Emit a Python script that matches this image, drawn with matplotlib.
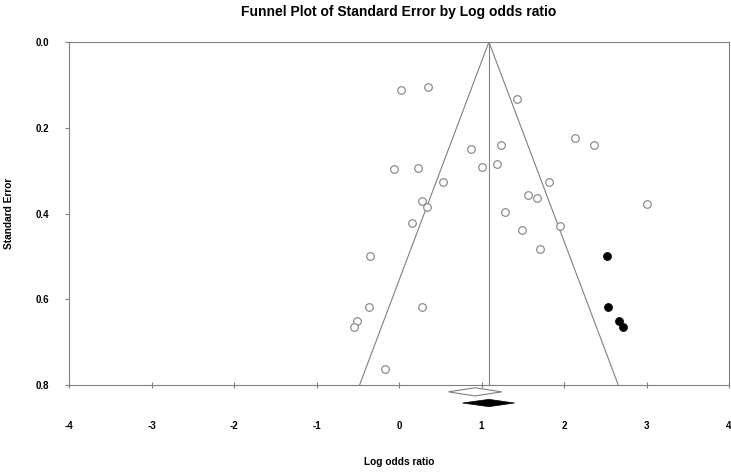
import numpy as np
import matplotlib
matplotlib.use("Agg")
import matplotlib.pyplot as plt

plt.rcParams['font.family'] = ['Liberation Sans', 'DejaVu Sans']

# observed studies (log odds ratio, standard error)
obs_lor = [0.03, 0.355, -0.064, 0.234, 0.283, 0.335, 0.153,
           -0.35, -0.364, -0.505, -0.54, 0.275, -0.174,
           1.426, 0.869, 1.236, 1.002, 1.184, 0.533, 1.818, 1.56, 1.669, 1.288, 1.495,
           1.713,
           2.133, 2.36, 3.01, 1.948]
obs_se = [0.112, 0.104, 0.297, 0.293, 0.372, 0.384, 0.421,
          0.500, 0.619, 0.651, 0.664, 0.619, 0.763,
          0.134, 0.250, 0.240, 0.292, 0.284, 0.326, 0.327, 0.356, 0.365, 0.397, 0.439,
          0.482,
          0.223, 0.240, 0.379, 0.428]

# imputed studies (trim and fill)
imp_lor = [2.52, 2.533, 2.67, 2.71]
imp_se = [0.500, 0.619, 0.651, 0.664]

# summary estimates: point, lower, upper
observed_est = [0.92, 0.60, 1.245]
adjusted_est = [1.09, 0.77, 1.40]

xticks = [-4, -3, -2, -1, 0, 1, 2, 3, 4]
yticks = [0.0, 0.2, 0.4, 0.6, 0.8]
se_max = 0.8

gray = '#808080'

fig = plt.figure(figsize=(7.31, 4.72), dpi=100)
ax = fig.add_axes([69/731, 1 - 385/472, 660/731, 343/472])

# funnel
c = adjusted_est[0]
ax.plot([c - 1.96*se_max, c, c + 1.96*se_max], [se_max, 0, se_max], color=gray, lw=0.8)
ax.plot([c, c], [0, se_max], color=gray, lw=0.8)

ax.scatter(obs_lor, obs_se, s=30, facecolors='white', edgecolors=gray, linewidths=0.8, zorder=3)
ax.scatter(imp_lor, imp_se, s=30, facecolors='black', edgecolors='black', linewidths=0.8, zorder=3)

# diamonds below the axis
def diamond(est, yc, hh, **kw):
    p, lo, hi = est
    ax.fill([lo, p, hi, p], [yc, yc - hh, yc, yc + hh], clip_on=False, **kw)

diamond(observed_est, 0.816, 0.0095, facecolor='white', edgecolor=gray, lw=0.8)
diamond(adjusted_est, 0.842, 0.0085, facecolor='black', edgecolor='black', lw=0.5)

ax.set_xlim(-4, 4)
ax.set_ylim(se_max, 0)
ax.set_xticks(xticks)
ax.set_xticklabels([str(t) for t in xticks], fontsize=7, fontweight='bold')
ax.set_yticks(yticks)
ax.set_yticklabels(['%.1f' % t for t in yticks], fontsize=7, fontweight='bold')
ax.tick_params(axis='x', direction='inout', length=4, pad=24, color=gray, width=0.8)
ax.tick_params(axis='y', direction='out', length=3, pad=11, color=gray, width=0.8)
for sp in ax.spines.values():
    sp.set_color(gray)
    sp.set_linewidth(0.8)

fig.text(399/731, 1 - 12/472, 'Funnel Plot of Standard Error by Log odds ratio',
         ha='center', va='center', fontsize=10, fontweight='bold')
fig.text(399/731, 1 - 462/472, 'Log odds ratio', ha='center', va='center',
         fontsize=7.3, fontweight='bold')
fig.text(9/731, 1 - 213/472, 'Standard Error', ha='center', va='center',
         rotation=90, fontsize=7.3, fontweight='bold')

fig.savefig('out.png', dpi=100)
